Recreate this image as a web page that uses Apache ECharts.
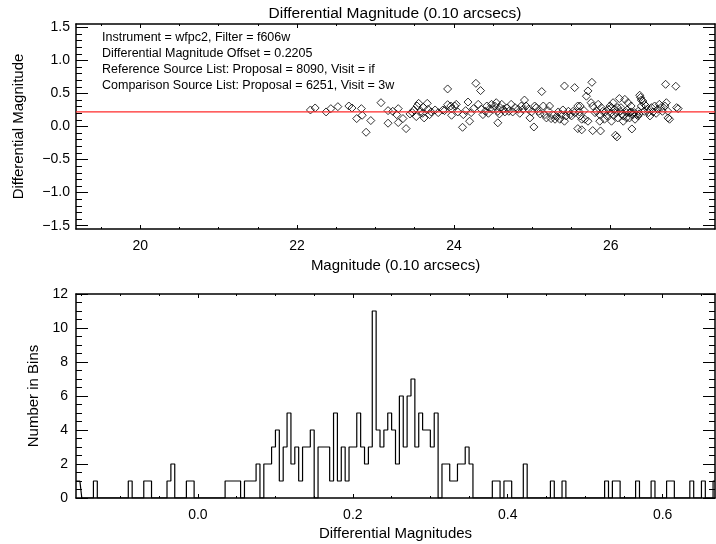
<!DOCTYPE html>
<html><head><meta charset="utf-8">
<script src="https://cdn.jsdelivr.net/npm/echarts@6/dist/echarts.min.js"></script>
<style>html,body{margin:0;padding:0;background:#fff}#c{width:716px;height:544px}</style>
</head><body><div id="c"></div>
<script>
// ---------- top panel ----------
const magRange = [19.18, 27.33];
const dmRange = [-1.55, 1.55];
const magMajorTicks = [20, 22, 24, 26];
const magTickLabels = ['20', '22', '24', '26'];
const magMinorTicks = [19.5, 20.5, 21, 21.5, 22.5, 23, 23.5, 24.5, 25, 25.5, 26.5, 27];
const dmMajorTicks = [-1.5, -1.0, -0.5, 0.0, 0.5, 1.0, 1.5];
const dmTickLabels = ['\u22121.5', '\u22121.0', '\u22120.5', '0.0', '0.5', '1.0', '1.5'];
const dmMinorTicks = [-1.4, -1.3, -1.2, -1.1, -0.9, -0.8, -0.7, -0.6, -0.4, -0.3, -0.2, -0.1,
  0.1, 0.2, 0.3, 0.4, 0.6, 0.7, 0.8, 0.9, 1.1, 1.2, 1.3, 1.4];
const magOffset = 0.2205;
const infoLines = [
  'Instrument = wfpc2, Filter = f606w',
  'Differential Magnitude Offset = 0.2205',
  'Reference Source List: Proposal = 8090, Visit = if',
  'Comparison Source List: Proposal = 6251, Visit = 3w'
];
const scatterPoints = [
  [22.17,0.25],[22.23,0.28],[22.37,0.22],[22.43,0.27],[22.52,0.30],[22.66,0.31],[22.70,0.28],[22.76,0.12],
  [22.82,0.27],[22.83,0.17],[22.88,-0.087],[22.94,0.09],[23.07,0.36],[23.16,0.24],[23.16,0.05],[23.22,0.23],
  [23.27,0.18],[23.29,0.27],[23.29,0.06],[23.35,0.12],[23.39,-0.032],[23.44,0.19],[23.47,0.21],[23.49,0.25],
  [23.52,0.15],[23.53,0.31],[23.55,0.35],[23.58,0.23],[23.60,0.20],[23.61,0.29],[23.62,0.13],[23.66,0.35],
  [23.67,0.26],[23.69,0.18],[23.71,0.22],[23.76,0.25],[23.80,0.21],[23.86,0.25],[23.88,0.24],[23.92,0.568],
  [23.92,0.33],[23.96,0.31],[23.97,0.27],[23.97,0.17],
  [24.01,0.31],[24.03,0.335],[24.05,0.22],[24.11,-0.012],[24.12,0.18],[24.15,0.24],[24.18,0.37],[24.20,0.08],
  [24.22,0.21],[24.25,0.27],[24.28,0.653],[24.31,0.335],[24.34,0.543],[24.35,0.26],[24.37,0.18],[24.40,0.23],
  [24.42,0.31],[24.44,0.20],[24.46,0.27],[24.48,0.335],[24.50,0.26],[24.52,0.31],[24.54,0.36],[24.56,0.23],
  [24.56,0.056],[24.58,0.19],[24.59,0.285],[24.61,0.335],[24.63,0.26],[24.65,0.22],[24.68,0.28],[24.70,0.23],
  [24.73,0.335],[24.75,0.22],[24.78,0.285],[24.82,0.26],[24.84,0.20],[24.86,0.31],[24.88,0.26],[24.90,0.40],
  [24.92,0.31],[24.95,0.26],[24.97,0.13],[24.99,0.22],[25.02,-0.007],[25.03,0.31],[25.05,0.285],[25.08,0.23],
  [25.10,0.19],[25.12,0.528],[25.14,0.31],[25.16,0.18],[25.18,0.13],[25.20,0.24],[25.22,0.31],[25.24,0.12],
  [25.27,0.17],[25.29,0.11],[25.31,0.15],[25.33,0.22],[25.35,0.11],[25.37,0.18],[25.39,0.25],[25.41,0.613],
  [25.41,0.08],[25.43,0.16],[25.46,0.23],[25.48,0.18],[25.50,0.16],[25.52,0.23],[25.54,0.588],[25.54,0.21],
  [25.58,0.31],[25.58,-0.032],[25.60,0.22],[25.61,0.16],[25.63,0.11],[25.63,-0.05],[25.66,0.24],[25.67,0.11],
  [25.69,0.458],[25.71,0.538],[25.76,0.668],
  [25.61,0.31],[25.71,0.08],[25.75,0.36],[25.77,0.31],[25.77,-0.062],[25.80,0.21],[25.82,0.23],[25.84,0.335],
  [25.86,0.18],[25.86,0.08],[25.87,-0.067],[25.88,0.285],[25.90,0.23],[25.92,0.11],[25.93,0.22],[25.95,0.16],
  [25.97,0.26],[25.99,0.31],[26.00,0.20],[26.01,0.285],[26.01,0.08],[26.03,0.36],[26.04,0.17],[26.05,0.26],
  [26.06,-0.132],[26.07,0.21],[26.08,-0.157],[26.09,0.13],[26.09,0.285],[26.11,0.423],[26.12,0.23],[26.13,0.285],
  [26.14,0.19],[26.16,0.16],[26.16,0.08],[26.18,0.41],[26.20,0.21],[26.20,0.13],[26.21,0.25],[26.22,0.36],
  [26.24,0.13],[26.24,0.21],[26.26,0.31],[26.26,0.22],[26.27,-0.037],[26.28,0.18],[26.30,0.21],[26.31,0.11],
  [26.33,0.18],[26.35,0.23],[26.35,0.16],[26.36,0.19],[26.37,0.473],[26.38,0.44],[26.39,0.31],[26.39,0.40],
  [26.41,0.385],[26.43,0.335],[26.43,0.23],[26.45,0.31],[26.47,0.26],[26.48,0.21],[26.50,0.16],[26.52,0.285],
  [26.54,0.22],[26.56,0.31],[26.58,0.20],[26.60,0.26],[26.62,0.335],[26.64,0.285],[26.66,0.23],[26.69,0.31],
  [26.70,0.638],[26.71,0.36],[26.73,0.23],[26.73,0.13],[26.75,0.11],[26.83,0.608],[26.84,0.285],[26.86,0.27]
];

// ---------- bottom panel (histogram) ----------
const histXRange = [-0.1574, 0.6676];
const histYRange = [0, 12];
const histStart = -0.1574;   // centre of first bin
const histBinSize = 0.005;
const histCounts = [
  1,1,0,0,0,1,0,0,0,0,
  0,0,0,0,1,0,0,0,1,1,
  0,0,0,0,1,2,0,0,0,1,
  1,0,0,0,0,0,0,0,0,1,
  1,1,1,0,1,1,1,2,0,2,
  2,3,4,1,3,5,2,3,1,3,
  3,4,0,3,3,3,1,5,1,3,
  1,3,3,5,3,2,3,11,4,3,
  4,5,4,2,6,3,6,7,3,5,
  4,4,3,5,0,2,2,1,1,2,
  2,3,2,0,0,0,0,0,1,1,
  0,1,1,0,0,0,2,0,0,0,
  0,0,0,1,0,0,1,0,0,0,
  0,0,0,0,0,0,0,1,0,1,
  1,0,0,0,0,1,0,0,0,1,
  0,0,0,1,1,0,0,0,0,1,
  0,0,1,0,0,1
];
const histXMajorTicks = [0.0, 0.2, 0.4, 0.6];
const histXTickLabels = ['0.0', '0.2', '0.4', '0.6'];
const histXMinorTicks = [-0.15, -0.1, -0.05, 0.05, 0.1, 0.15, 0.25, 0.3, 0.35, 0.45, 0.5, 0.55, 0.65];
const histYMajorTicks = [0, 2, 4, 6, 8, 10, 12];
const histYTickLabels = ['0', '2', '4', '6', '8', '10', '12'];
const histYMinorTicks = [0.5, 1, 1.5, 2.5, 3, 3.5, 4.5, 5, 5.5, 6.5, 7, 7.5, 8.5, 9, 9.5, 10.5, 11, 11.5];

// ---------- build ----------
const FONT = '"Liberation Sans", Arial, sans-serif';
const BLACK = '#000';

function labelFor(vals, labels) {
  return function (v) {
    for (let i = 0; i < vals.length; i++) if (Math.abs(vals[i] - v) < 1e-9) return labels[i];
    return '';
  };
}
function makeAxis(gridIndex, position, range, ticks, tickLen, showLine, label, name) {
  const ax = {
    type: 'value', gridIndex: gridIndex, position: position,
    min: range[0], max: range[1],
    splitLine: { show: false },
    axisLine: { show: showLine, onZero: false, lineStyle: { color: BLACK, width: 1.5 } },
    axisTick: { show: true, inside: true, length: tickLen, customValues: ticks,
      lineStyle: { color: BLACK, width: 1 } },
    axisLabel: { show: false },
    silent: true
  };
  if (label) {
    ax.axisLabel = { show: true, customValues: label.values, formatter: labelFor(label.values, label.texts),
      margin: label.margin, fontSize: 14, fontFamily: FONT, color: BLACK };
  }
  if (name) {
    ax.name = name.text; ax.nameLocation = 'middle'; ax.nameGap = name.gap;
    ax.nameTextStyle = { fontSize: 15, fontFamily: FONT, color: BLACK };
  }
  return ax;
}

const xAxes = [
  makeAxis(0, 'bottom', magRange, magMajorTicks, 4, true,
    { values: magMajorTicks, texts: magTickLabels, margin: 10 }, { text: 'Magnitude (0.10 arcsecs)', gap: 29 }),
  makeAxis(0, 'bottom', magRange, magMinorTicks, 2, false),
  makeAxis(0, 'top', magRange, magMajorTicks, 4, true),
  makeAxis(0, 'top', magRange, magMinorTicks, 2, false),
  makeAxis(1, 'bottom', histXRange, histXMajorTicks, 4, true,
    { values: histXMajorTicks, texts: histXTickLabels, margin: 10 }, { text: 'Differential Magnitudes', gap: 28 }),
  makeAxis(1, 'bottom', histXRange, histXMinorTicks, 2, false),
  makeAxis(1, 'top', histXRange, histXMajorTicks, 4, true),
  makeAxis(1, 'top', histXRange, histXMinorTicks, 2, false)
];
const yAxes = [
  makeAxis(0, 'left', dmRange, dmMajorTicks, 12, true,
    { values: dmMajorTicks, texts: dmTickLabels, margin: 6 }, { text: 'Differential Magnitude', gap: 50 }),
  makeAxis(0, 'left', dmRange, dmMinorTicks, 6, false),
  makeAxis(0, 'right', dmRange, dmMajorTicks, 12, true),
  makeAxis(0, 'right', dmRange, dmMinorTicks, 6, false),
  makeAxis(1, 'left', histYRange, histYMajorTicks, 12, true,
    { values: histYMajorTicks, texts: histYTickLabels, margin: 8 }, { text: 'Number in Bins', gap: 33 }),
  makeAxis(1, 'left', histYRange, histYMinorTicks, 6, false),
  makeAxis(1, 'right', histYRange, histYMajorTicks, 12, true),
  makeAxis(1, 'right', histYRange, histYMinorTicks, 6, false)
];

const histData = histCounts.map(function (c, i) { return [histStart + i * histBinSize, c]; });

const option = {
  animation: false,
  backgroundColor: '#fff',
  grid: [
    { left: 76, right: 1, top: 24, bottom: 315, outerBoundsMode: 'none' },
    { left: 76, right: 1, top: 294, bottom: 46, outerBoundsMode: 'none' }
  ],
  xAxis: xAxes,
  yAxis: yAxes,
  graphic: [
    { type: 'text', x: 395, y: 14, silent: true,
      style: { text: 'Differential Magnitude (0.10 arcsecs)', fill: BLACK, fontSize: 15.5, fontFamily: FONT,
        align: 'center', verticalAlign: 'middle' } }
  ].concat(infoLines.map(function (t, i) {
    return { type: 'text', x: 102, y: 38 + i * 15.9, silent: true,
      style: { text: t, fill: BLACK, fontSize: 12.5, fontFamily: FONT, align: 'left', verticalAlign: 'middle' } };
  })),
  series: [
    { type: 'scatter', xAxisIndex: 0, yAxisIndex: 0, data: scatterPoints, silent: true,
      symbol: 'diamond', symbolSize: 8,
      itemStyle: { color: 'rgba(0,0,0,0)', borderColor: BLACK, borderWidth: 1 } },
    { type: 'line', xAxisIndex: 0, yAxisIndex: 0, silent: true, symbol: 'none',
      data: [[magRange[0], magOffset], [magRange[1], magOffset]],
      lineStyle: { color: '#ff2a2a', width: 1.3 } },
    { type: 'line', xAxisIndex: 4, yAxisIndex: 4, silent: true, symbol: 'none', step: 'middle',
      data: histData, lineStyle: { color: BLACK, width: 1.2 } }
  ]
};
const chart = echarts.init(document.getElementById('c'), null, { renderer: 'canvas' });
chart.setOption(option);
</script>
</body></html>
